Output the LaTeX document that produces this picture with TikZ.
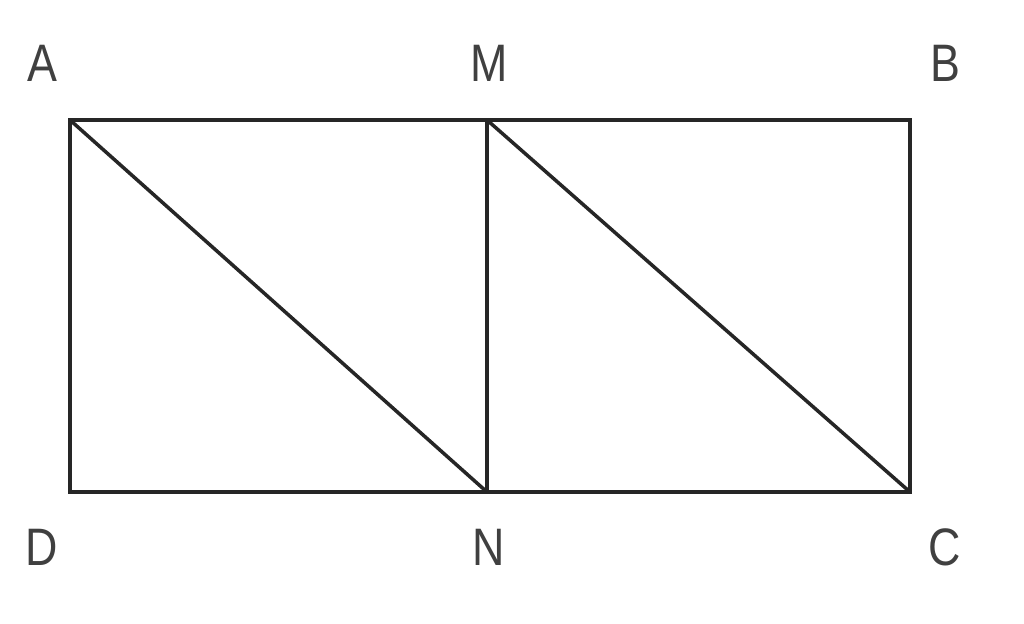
\documentclass[tikz,border=0pt]{standalone}
\usepackage{fontspec}
\setmainfont[FakeStretch=0.85]{Liberation Sans}
\begin{document}
\begin{tikzpicture}[
		ecke/.style={font=\fontsize{15}{15}\selectfont, text=black!75},
		linie/.style={line width=1pt, black!85}
	]
		\useasboundingbox (0,0) rectangle (10.24,6.23);
		% zeichne Eckpunkte
		\coordinate (A) at (0.70,5.03);
		\coordinate (M) at (4.87,5.03);
		\coordinate (B) at (9.10,5.03);
		\coordinate (D) at (0.70,1.31);
		\coordinate (N) at (4.87,1.31);
		\coordinate (C) at (9.10,1.31);
		
		% zeichne Labels
		\node[ecke] (lA) at (0.42,5.60) {A};
		\node[ecke] (lM) at (4.89,5.60) {M};
		\node[ecke] (lB) at (9.45,5.60) {B};
		\node[ecke] (lD) at (0.42,0.76) {D};
		\node[ecke] (lN) at (4.89,0.76) {N};
		\node[ecke] (lC) at (9.45,0.76) {C};
		
		% zeichne Rechteck und Strecken
		\draw[linie] (A) -- (B) -- (C) -- (D) -- cycle;
		\draw[linie] (M) -- (N);
		\draw[linie] (A) -- (N);
		\draw[linie] (M) -- (C);
	\end{tikzpicture}
\end{document}
